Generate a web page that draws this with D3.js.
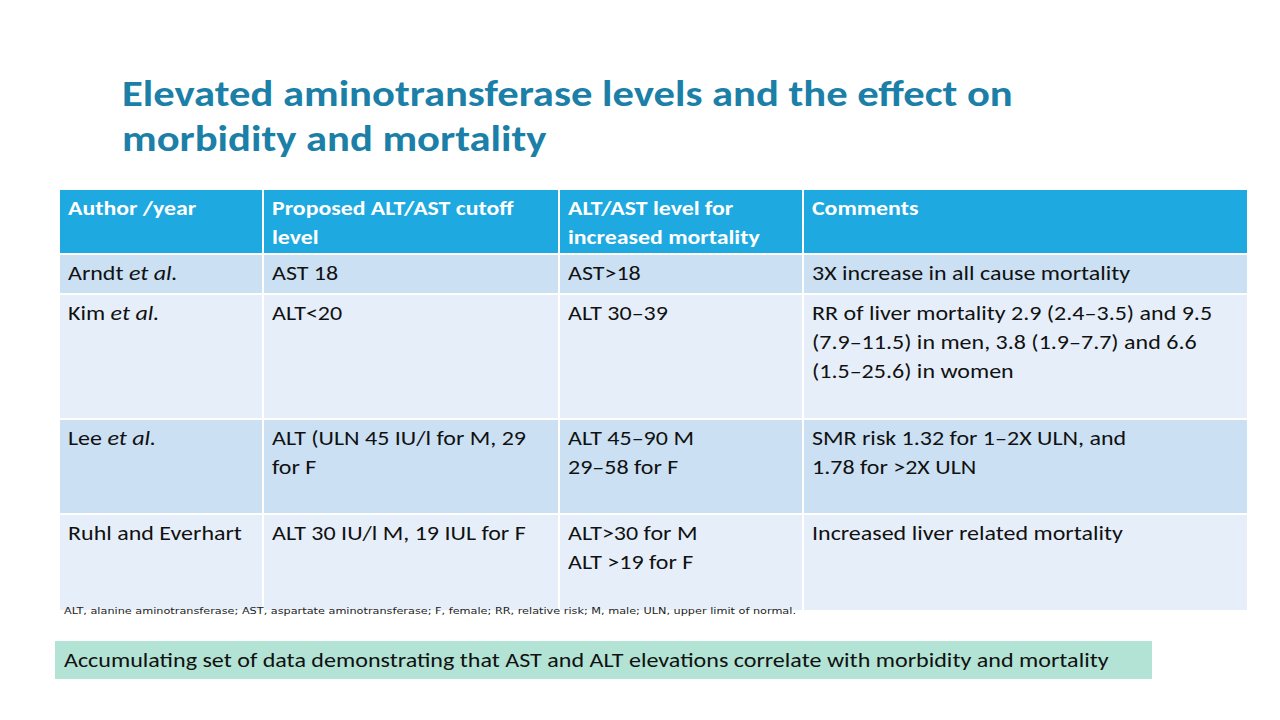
<!DOCTYPE html>
<html><head><meta charset="utf-8">
<script src="https://cdn.jsdelivr.net/npm/d3@7"></script>
<style>
html,body{margin:0;padding:0;background:#fff;}
svg{display:block;}
</style></head>
<body>
<svg id="c" width="1280" height="720"></svg>
<script>
// ---- data ----
const titleLines = ["Elevated aminotransferase levels and the effect on", "morbidity and mortality"];
const headers = [["Author /year"], ["Proposed ALT/AST cutoff", "level"], ["ALT/AST level for", "increased mortality"], ["Comments"]];
const authorNames = ["Arndt", "Kim", "Lee", "Ruhl and Everhart"];
const authorEtAl = [true, true, true, false];
const cutoffLevels = [["AST 18"], ["ALT<20"], ["ALT (ULN 45 IU/l for M, 29", "for F"], ["ALT 30 IU/l M, 19 IUL for F"]];
const mortalityLevels = [["AST>18"], ["ALT 30–39"], ["ALT 45–90 M", "29–58 for F"], ["ALT>30 for M", "ALT >19 for F"]];
const comments = [["3X increase in all cause mortality"],
  ["RR of liver mortality 2.9 (2.4–3.5) and 9.5", "(7.9–11.5) in men, 3.8 (1.9–7.7) and 6.6", "(1.5–25.6) in women"],
  ["SMR risk 1.32 for 1–2X ULN, and", "1.78 for >2X ULN"],
  ["Increased liver related mortality"]];
const footnote = "ALT, alanine aminotransferase; AST, aspartate aminotransferase; F, female; RR,  relative risk; M, male; ULN, upper limit of normal.";
const takeaway = "Accumulating set of data demonstrating that AST and ALT elevations correlate with morbidity and mortality";

// ---- layout ----
const svg = d3.select("#c");
const FONT = "Carlito, Calibri, Lato, 'Open Sans', sans-serif";
const colEdges = [59, 263, 559, 803, 1248];
const rowEdges = [189, 254, 294, 419, 514, 611]; // header + 4 rows
const rowFill = ["#1ea9e1", "#cbe0f3", "#e6eff9", "#cbe0f3", "#e6eff9"];
const lineH = 29;

// horizontal stretch helper (slide is widened)
function stretch(sel, k) {
  sel.each(function () {
    const w = this.getComputedTextLength();
    d3.select(this).attr("textLength", w * k).attr("lengthAdjust", "spacingAndGlyphs");
  });
}

// title
svg.append("g").selectAll("text").data(titleLines).join("text")
  .attr("x", 122).attr("y", (d, i) => 106 + i * 45)
  .attr("font-family", FONT).attr("font-weight", "bold").attr("font-size", 37)
  .attr("fill", "#1b7fa7").text(d => d)
  .call(stretch, 1.152);

// rows as table matrix
const rows = [headers].concat(authorNames.map((a, i) => [
  [{ name: a, etal: authorEtAl[i] }], cutoffLevels[i], mortalityLevels[i], comments[i]
]));

const tbl = svg.append("g");
rows.forEach((row, r) => {
  const y0 = rowEdges[r], y1 = rowEdges[r + 1];
  row.forEach((cell, c) => {
    const x0 = colEdges[c], x1 = colEdges[c + 1];
    tbl.append("rect").attr("x", x0 + 1).attr("y", y0 + 1)
      .attr("width", x1 - x0 - 2).attr("height", y1 - y0 - 2)
      .attr("fill", rowFill[r]);
    const t = tbl.append("g").attr("font-family", FONT).attr("font-size", 20)
      .attr("fill", r === 0 ? "#ffffff" : "#111111")
      .attr("font-weight", r === 0 ? "bold" : "normal");
    cell.forEach((line, li) => {
      const tx = t.append("text").attr("x", x0 + 9).attr("y", y0 + 26 + li * lineH);
      if (typeof line === "object") {
        tx.append("tspan").text(line.name);
        if (line.etal) tx.append("tspan").attr("font-style", "italic").text(" et al.");
      } else tx.text(line);
      stretch(tx, r === 0 ? 1.19 : 1.2);
    });
  });
});

// footnote
svg.append("text").attr("x", 64).attr("y", 614)
  .attr("font-family", "'DejaVu Sans', sans-serif").attr("font-size", 9.5)
  .attr("fill", "#222").attr("textLength", 732).attr("lengthAdjust", "spacingAndGlyphs")
  .text(footnote);

// takeaway box
svg.append("rect").attr("x", 55).attr("y", 641).attr("width", 1097).attr("height", 38).attr("fill", "#b2e3d4");
svg.append("text").attr("x", 64).attr("y", 667)
  .attr("font-family", FONT).attr("font-size", 21).attr("fill", "#111").text(takeaway)
  .call(stretch, 1.146);
</script>
</body></html>
